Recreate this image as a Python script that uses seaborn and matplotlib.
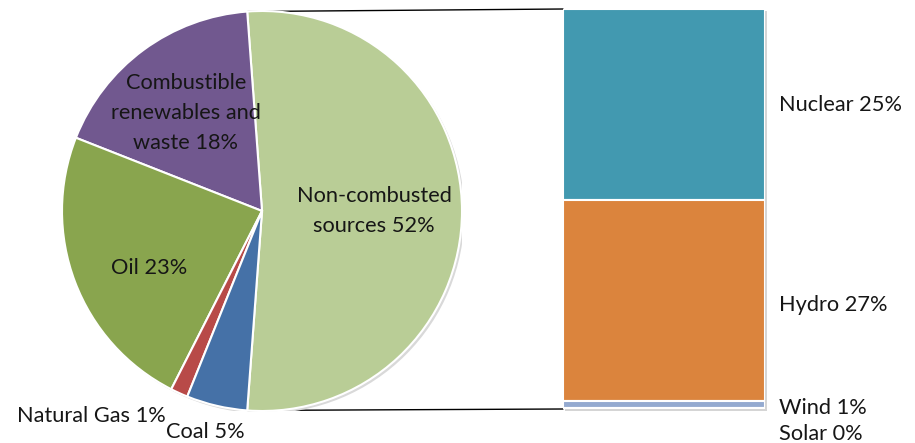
import matplotlib
matplotlib.use("Agg")
import matplotlib.pyplot as plt
import seaborn as sns
from matplotlib.patches import ConnectionPatch, Rectangle, Circle
import numpy as np

# ---- data ----
pie_labels = ["Non-combusted\nsources 52%", "Combustible\nrenewables and\nwaste 18%",
              "Oil 23%", "Natural Gas 1%", "Coal 5%"]
pie_values = [52.2, 17.8, 23.4, 1.4, 4.9]
pie_colors = ["#B9CD96", "#71588F", "#89A54E", "#B84A48", "#4571A7"]

bar_labels = ["Nuclear 25%", "Hydro 27%", "Wind 1%", "Solar 0%"]
bar_values = [24.9, 26.3, 0.9, 0.1]
bar_colors = ["#4299B0", "#DB843D", "#94AAD0", "#C7D3EA"]

sns.set_theme(style="white")
plt.rcParams['font.family'] = ['Lato', 'DejaVu Sans']

W, H = 915, 443
fig = plt.figure(figsize=(W / 100, H / 100), dpi=100)

def box(x0, y0, x1, y1):
    return [x0 / W, 1 - y1 / H, (x1 - x0) / W, (y1 - y0) / H]

# pie axes
axp = fig.add_axes(box(62, 11, 462, 411))
axp.add_patch(Circle((0.012, -0.012), 1.0, facecolor="#d9d9d9", edgecolor="none", zorder=0))
start = -pie_values[0] / sum(pie_values) * 180
wedges, _ = axp.pie(pie_values, colors=pie_colors, startangle=start, counterclock=True,
                    wedgeprops=dict(edgecolor="white", linewidth=1.5), radius=1)
axp.set_xlim(-1, 1)
axp.set_ylim(-1, 1)
axp.set_aspect("equal")
axp.axis("off")

fs = 15.7
tc = "#161616"
axp.text(0.56, 0.0, pie_labels[0], ha="center", va="center", fontsize=fs, color=tc, linespacing=1.6)
axp.text(-0.38, 0.49, pie_labels[1], ha="center", va="center", fontsize=fs, color=tc, linespacing=1.6)
axp.text(-0.565, -0.285, pie_labels[2], ha="center", va="center", fontsize=fs, color=tc)
axp.text(-1.225, -1.025, pie_labels[3], ha="left", va="center", fontsize=fs, color=tc, clip_on=False)
axp.text(-0.48, -1.105, pie_labels[4], ha="left", va="center", fontsize=fs, color=tc, clip_on=False)

# bar axes
axb = fig.add_axes(box(563, 9, 765, 409))
total = sum(bar_values)
axb.add_patch(Rectangle((-0.49, -total * 0.006), 1.0, total, facecolor="#d5d5d5",
                        edgecolor="none", zorder=0, clip_on=False))
bottom = total
for v, c in zip(bar_values, bar_colors):
    bottom -= v
    axb.bar(0, v, bottom=bottom, width=1.0, color=c, edgecolor="white", linewidth=1.5, zorder=2)
axb.set_xlim(-0.5, 0.5)
axb.set_ylim(0, total)
axb.axis("off")

fig.text(779 / W, 1 - 105 / H, bar_labels[0], ha="left", va="center", fontsize=fs, color=tc)
fig.text(779 / W, 1 - 305 / H, bar_labels[1], ha="left", va="center", fontsize=fs, color=tc)
fig.text(779 / W, 1 - 408 / H, bar_labels[2], ha="left", va="center", fontsize=fs, color=tc)
fig.text(779 / W, 1 - 434 / H, bar_labels[3], ha="left", va="center", fontsize=fs, color=tc)

# connector lines
t1 = np.deg2rad(wedges[0].theta2)
t2 = np.deg2rad(wedges[0].theta1)
for ang, yb in [(t1, total), (t2, 0)]:
    con = ConnectionPatch(xyA=(np.cos(ang), np.sin(ang)), coordsA=axp.transData,
                          xyB=(-0.5, yb), coordsB=axb.transData,
                          color="black", linewidth=1.0)
    fig.add_artist(con)
    con.set_zorder(0)

fig.savefig("out.png", dpi=100)
